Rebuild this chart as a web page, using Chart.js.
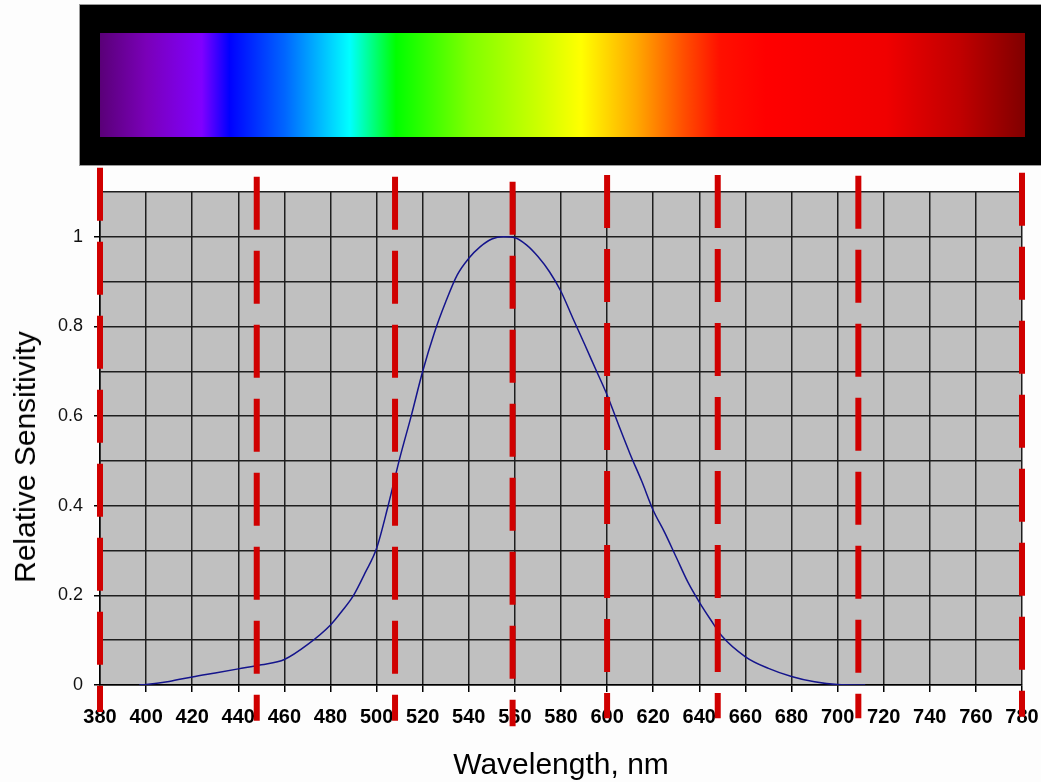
<!DOCTYPE html>
<html>
<head>
<meta charset="utf-8">
<title>Relative Sensitivity</title>
<script src="https://cdn.jsdelivr.net/npm/chart.js@4.4.1/dist/chart.umd.min.js"></script>
<style>
  html, body { margin: 0; padding: 0; background: #fdfdfd; }
  #wrap { position: relative; width: 1041px; height: 782px; overflow: hidden; }
  #grafico { position: absolute; left: 0; top: 0; }
  /* spectrum strip above the plot */
  #espectro {
    position: absolute; left: 79px; top: 4px; width: 962px; height: 162px;
    background: #000; box-sizing: border-box; border: 1px solid #9a9a9a; border-right: none;
  }
  #espectro .faixa {
    position: absolute; left: 20px; top: 28px; width: 925px; height: 104px;
    background: linear-gradient(to right,
      #5a0078 0%, #7a00b8 5%, #8000ff 11%, #0000ff 14%, #0066ff 20%,
      #00ffff 27%, #00ff00 32%, #80ff00 40%, #c8ff00 47%, #ffff00 52%,
      #ffa800 58%, #ff5000 63%, #ff1000 67%, #ff0000 72%, #f00000 85%, #c00000 93%, #800000 100%);
  }
  #ytitulo {
    position: absolute; left: 25px; top: 457px;
    transform: translate(-50%, -50%) rotate(-90deg);
    font: 30px "Liberation Sans", Arial, sans-serif; line-height: 30px;
    white-space: nowrap; color: #000;
  }
</style>
</head>
<body>
<div id="wrap">
  <canvas id="grafico" width="1041" height="782"></canvas>
  <div id="espectro"><div class="faixa"></div></div>
  <div id="ytitulo">Relative Sensitivity</div>
</div>
<script>
// eye sensitivity curve (nm, relative)
const comprimentos = [397, 400, 410, 420, 430, 440, 450, 460, 470, 480, 485, 490, 495, 500, 505, 510, 515, 520, 525, 530, 535, 540, 545, 550, 555, 560, 565, 570, 575, 580, 585, 590, 595, 600, 605, 610, 615, 620, 625, 630, 635, 640, 645, 650, 660, 670, 680, 690, 700, 712];
const sensibilidade = [0, 0.001, 0.008, 0.018, 0.027, 0.036, 0.045, 0.057, 0.09, 0.134, 0.165, 0.2, 0.25, 0.305, 0.4, 0.505, 0.6, 0.7, 0.785, 0.855, 0.915, 0.952, 0.978, 0.995, 1.0, 0.998, 0.982, 0.956, 0.922, 0.878, 0.82, 0.763, 0.705, 0.647, 0.58, 0.515, 0.455, 0.39, 0.34, 0.285, 0.23, 0.185, 0.145, 0.108, 0.063, 0.037, 0.019, 0.007, 0.001, 0];

// colour band boundaries (nm) and how far each dashed marker reaches (axis units)
const marcadores = [380, 448, 508, 559, 600, 648, 709, 780];
const marcadorTopo = [1.154, 1.134, 1.134, 1.123, 1.138, 1.138, 1.136, 1.143];
const marcadorBase = [-0.06, -0.08, -0.08, -0.092, -0.074, -0.074, -0.074, -0.071];

// axis ticks
const xTicks = { min: 380, max: 780, passo: 20 };
const yTicks = { min: 0, max: 1.1, passo: 0.1 };

function rotulado(v) {
    const d = Math.round(v * 10);
    return d % 2 === 0 && d <= 10;
}

const fundoArea = {
    id: 'fundoArea',
    beforeDraw(chart) {
        const a = chart.chartArea;
        const ctx = chart.ctx;
        ctx.save();
        ctx.fillStyle = '#c0c0c0';
        ctx.fillRect(a.left, a.top, a.right - a.left, a.bottom - a.top);
        ctx.restore();
    }
};

const datasets = [{
    label: 'Sensitivity',
    data: comprimentos.map((x, i) => ({ x: x, y: sensibilidade[i] })),
    borderColor: '#14148c',
    borderWidth: 1.5,
    pointRadius: 0,
    cubicInterpolationMode: 'monotone',
    fill: false,
    order: 2
}];

marcadores.forEach((nm, i) => {
    datasets.push({
        label: 'band ' + nm,
        data: [{ x: nm, y: marcadorTopo[i] }, { x: nm, y: marcadorBase[i] }],
        borderColor: '#d00000',
        borderWidth: 6,
        borderDash: [53, 21],
        borderCapStyle: 'butt',
        pointRadius: 0,
        clip: false,
        order: 1
    });
});

new Chart(document.getElementById('grafico'), {
    type: 'line',
    data: { datasets: datasets },
    options: {
        responsive: false,
        animation: false,
        layout: { padding: { top: 192, right: 19, left: 0, bottom: 0 } },
        plugins: { legend: { display: false }, tooltip: { enabled: false } },
        scales: {
            x: {
                type: 'linear',
                min: xTicks.min,
                max: xTicks.max,
                afterFit: s => { s.height = 97; s.paddingLeft = 0; s.paddingRight = 0; },
                ticks: {
                    stepSize: xTicks.passo,
                    color: '#000',
                    padding: 13,
                    maxRotation: 0,
                    font: { family: 'Liberation Sans', size: 20, weight: 'bold' }
                },
                grid: { color: '#1e1e1e', lineWidth: 1.5, tickLength: 7, tickColor: '#000' },
                border: { color: '#000', width: 1.5 },
                title: {
                    display: true,
                    text: 'Wavelength, nm',
                    color: '#000',
                    font: { family: 'Liberation Sans', size: 30, lineHeight: 1 },
                    padding: { top: 0, bottom: 1 }
                }
            },
            y: {
                min: yTicks.min,
                max: yTicks.max,
                afterFit: s => { s.width = 100; },
                ticks: {
                    stepSize: yTicks.passo,
                    color: '#111',
                    padding: 11,
                    font: { family: 'Liberation Sans', size: 18 },
                    callback: v => rotulado(v) ? String(Math.round(v * 10) / 10) : ''
                },
                grid: {
                    color: '#1e1e1e',
                    lineWidth: 1.5,
                    tickLength: 6,
                    tickColor: ctx => (ctx.tick && rotulado(ctx.tick.value)) ? '#000' : 'rgba(0,0,0,0)'
                },
                border: { color: '#000', width: 1.5 }
            }
        }
    },
    plugins: [fundoArea]
});
</script>
</body>
</html>
